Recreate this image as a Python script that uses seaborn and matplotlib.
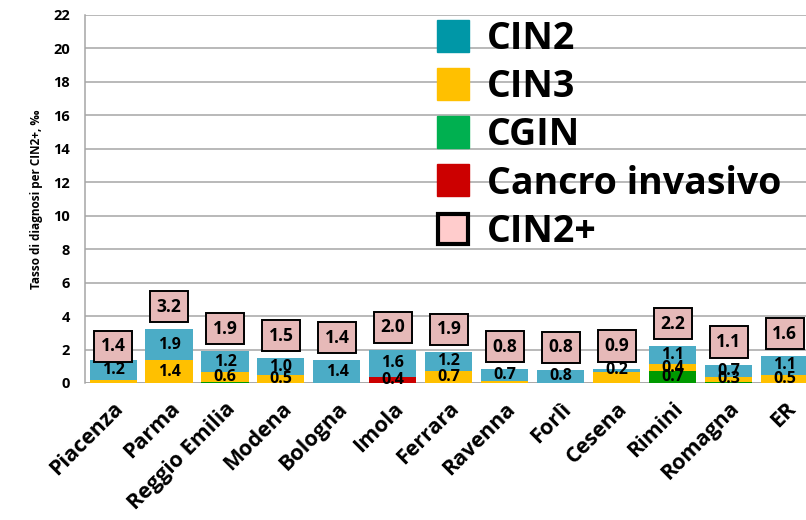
import numpy as np
import pandas as pd
import matplotlib
matplotlib.use("Agg")
import matplotlib.pyplot as plt
from matplotlib.lines import Line2D
import seaborn as sns

# Values (rate per 1000, ‰)
categories = ["Piacenza", "Parma", "Reggio Emilia", "Modena", "Bologna", "Imola",
              "Ferrara", "Ravenna", "Forlì", "Cesena", "Rimini", "Romagna", "ER"]
cancro = [0.0, 0.0, 0.0, 0.0, 0.0, 0.38, 0.0, 0.0, 0.0, 0.0, 0.0, 0.0, 0.0]
cgin = [0.0, 0.0, 0.04, 0.0, 0.0, 0.0, 0.0, 0.0, 0.0, 0.0, 0.72, 0.06, 0.0]
cin3 = [0.18, 1.36, 0.62, 0.47, 0.0, 0.0, 0.7, 0.1, 0.0, 0.64, 0.4, 0.3, 0.5]
cin2 = [1.22, 1.86, 1.23, 1.01, 1.36, 1.6, 1.17, 0.72, 0.78, 0.22, 1.08, 0.74, 1.1]
cin2plus_labels = ["1.4", "3.2", "1.9", "1.5", "1.4", "2.0", "1.9", "0.8", "0.8", "0.9", "2.2", "1.1", "1.6"]

series = [("Cancro invasivo", cancro, "#CC0000", "#CC0000"),
          ("CGIN", cgin, "#009A00", "#00B050"),
          ("CIN3", cin3, "#FFC000", "#FFC000"),
          ("CIN2", cin2, "#4BACC6", "#0097A7")]

# labels Excel did not show
hide_labels = {("CIN3", "Cesena")}

df = pd.DataFrame({"cat": categories, "Cancro invasivo": cancro, "CGIN": cgin,
                   "CIN3": cin3, "CIN2": cin2})

sns.set_style("white")
plt.rcParams["font.family"] = ["Open Sans", "DejaVu Sans"]
plt.rcParams["font.weight"] = "bold"
for k in ["text.color", "axes.labelcolor", "xtick.labelcolor", "ytick.labelcolor"]:
    plt.rcParams[k] = "black"

fig = plt.figure(figsize=(8.06, 5.2), dpi=100)
ax = fig.add_axes([0.1055, 0.2635, 0.903, 0.7077])

bottom = np.zeros(len(categories))
for name, vals, col, _ in series:
    sns.barplot(data=df, x="cat", y=name, bottom=bottom, color=col, width=0.84,
                saturation=1, linewidth=0, ax=ax, zorder=3)
    for i, v in enumerate(vals):
        if v >= 0.2 and (name, categories[i]) not in hide_labels:
            ax.text(i, bottom[i] + v / 2, f"{v:.1f}", ha="center", va="center",
                    fontsize=11.5, fontweight="bold", color="black", zorder=5)
    bottom = bottom + np.array(vals)

totals = bottom
for i, t in enumerate(totals):
    off = 0.8 if categories[i] == "Piacenza" else 1.35
    ax.text(i, t + off, cin2plus_labels[i], ha="center", va="center", fontsize=12.5,
            fontweight="bold", zorder=6,
            bbox=dict(boxstyle="square,pad=0.38", facecolor="#E6B9B8",
                      edgecolor="black", linewidth=1.4))

ax.set_ylim(0, 22)
ax.set_xlim(-0.5, len(categories) - 0.5)
ax.set_yticks(np.arange(0, 23, 2))
ax.yaxis.grid(True, color="#A6A6A6", linewidth=1.1, zorder=0)
ax.set_axisbelow(True)
for s in ["top", "right", "bottom"]:
    ax.spines[s].set_visible(False)
ax.spines["left"].set_color("#A6A6A6")
ax.spines["left"].set_linewidth(1.1)
ax.axhline(0, color="#A6A6A6", linewidth=1.1, zorder=1)

ax.set_xticks(np.arange(len(categories)))
ax.set_xticks(np.arange(-0.5, len(categories), 1), minor=True)
ax.tick_params(axis="x", which="major", length=0, pad=11)
ax.tick_params(axis="x", which="minor", length=6, color="#A6A6A6", width=1.1)
ax.tick_params(axis="y", length=6, color="#A6A6A6", width=1.1, labelsize=10.5, pad=5)
ax.set_xticklabels(categories, rotation=45, ha="right", rotation_mode="anchor",
                   fontsize=15.5, fontweight="bold")
for lab in ax.get_xticklabels():
    lab.set_x(lab.get_position()[0] + 0.12)
for lab in ax.get_yticklabels():
    lab.set_fontweight("bold")
ax.set_xlabel("")
ax.set_ylabel("Tasso di diagnosi per CIN2+, ‰", fontsize=8.5, fontweight="bold", labelpad=7)

handles = [Line2D([], [], marker="s", linestyle="none", markersize=23,
                  markerfacecolor=lc, markeredgecolor=lc, label=n)
           for n, _, _, lc in series[::-1]]
handles.append(Line2D([], [], marker="s", linestyle="none", markersize=21,
                      markerfacecolor="#FFCCCC", markeredgecolor="black",
                      markeredgewidth=3, label="CIN2+"))
leg = fig.legend(handles=handles, loc="upper left", bbox_to_anchor=(0.52, 0.99),
                 frameon=False, prop={"size": 27, "weight": "bold"},
                 handlelength=1.0, handletextpad=0.4, labelspacing=0.27,
                 borderaxespad=0)

fig.savefig("out.png", dpi=100)
